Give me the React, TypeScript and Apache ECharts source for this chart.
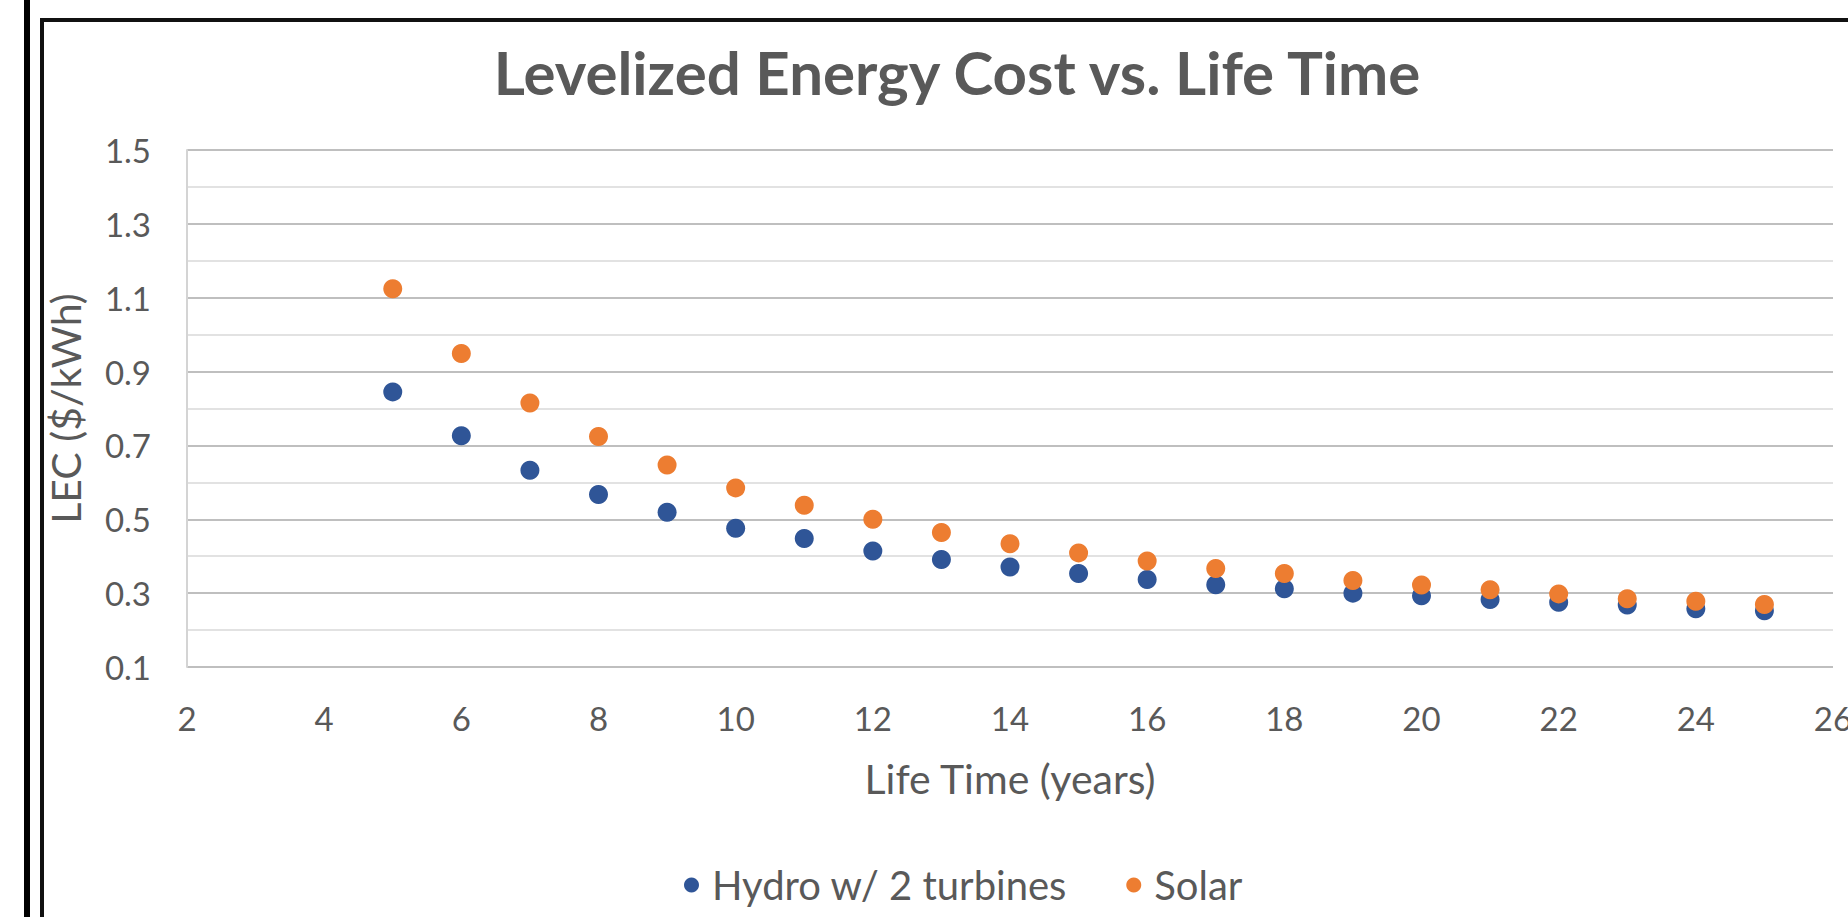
import React, { useEffect, useRef } from "react";
import * as echarts from "echarts";

const lifeTimeYears = [5, 6, 7, 8, 9, 10, 11, 12, 13, 14, 15, 16, 17, 18, 19, 20, 21, 22, 23, 24, 25];
const hydroLEC = [0.845, 0.726, 0.633, 0.567, 0.519, 0.476, 0.448, 0.414, 0.391, 0.371, 0.353, 0.337, 0.323, 0.312, 0.300, 0.293, 0.283, 0.275, 0.268, 0.258, 0.252];
const solarLEC = [1.124, 0.949, 0.815, 0.724, 0.647, 0.585, 0.538, 0.500, 0.464, 0.434, 0.409, 0.387, 0.367, 0.353, 0.334, 0.322, 0.309, 0.298, 0.285, 0.278, 0.269];
const yTickLabels = ["0.1", "0.3", "0.5", "0.7", "0.9", "1.1", "1.3", "1.5"];
const seriesNames = ["Hydro w/ 2 turbines", "Solar"];
const titleText = "Levelized Energy Cost vs. Life Time";
const xAxisTitle = "Life Time (years)";
const yAxisTitle = "LEC ($/kWh)";

const FONT = "Lato";
const TEXT_COLOR = "#595959";

export default function App() {
  const ref = useRef<HTMLDivElement>(null);
  useEffect(() => {
    if (!ref.current) return;
    const chart = echarts.init(ref.current, null, { renderer: "svg" });
    const pairs = (ys: number[]) => lifeTimeYears.map((x, i) => [x, ys[i]]);
    chart.setOption({
      animation: false,
      backgroundColor: "#ffffff",
      textStyle: { fontFamily: FONT },
      title: {
        text: titleText,
        left: 952,
        textAlign: "center",
        top: 37,
        textStyle: { fontFamily: FONT, fontSize: 60, fontWeight: "bold", color: TEXT_COLOR },
      },
      legend: {
        data: seriesNames,
        left: 679,
        top: 860,
        icon: "circle",
        itemWidth: 15,
        itemHeight: 15,
        itemGap: 59,
        textStyle: { fontFamily: FONT, fontSize: 40, color: TEXT_COLOR, padding: [0, 0, 0, 8] },
      },
      grid: { left: 187, right: 15, top: 150, bottom: 250, outerBoundsMode: "none" },
      xAxis: {
        type: "value",
        min: 2,
        max: 26,
        interval: 2,
        axisLine: { show: false },
        axisTick: { show: false },
        splitLine: { show: false },
        axisLabel: { fontFamily: FONT, fontSize: 33, color: TEXT_COLOR, margin: 34 },
        name: xAxisTitle,
        nameLocation: "middle",
        nameGap: 91,
        nameTextStyle: { fontFamily: FONT, fontSize: 41, color: TEXT_COLOR },
      },
      yAxis: {
        type: "value",
        min: 0.1,
        max: 1.5,
        interval: 0.1,
        axisLine: { show: true, lineStyle: { color: "#d4d4d4", width: 2 } },
        axisTick: { show: false },
        splitLine: { show: true, lineStyle: { color: ["#bfbfbf", "#e2e2e2"], width: 2 } },
        axisLabel: {
          fontFamily: FONT,
          fontSize: 33,
          color: TEXT_COLOR,
          margin: 36,
          formatter: (v: number) => {
            const s = v.toFixed(1);
            return yTickLabels.includes(s) ? s : "";
          },
        },
        name: yAxisTitle,
        nameLocation: "middle",
        nameGap: 101,
        nameTextStyle: { fontFamily: FONT, fontSize: 41, color: TEXT_COLOR },
      },
      series: [
        {
          name: seriesNames[0],
          type: "scatter",
          data: pairs(hydroLEC),
          symbol: "circle",
          symbolSize: 19,
          itemStyle: { color: "#2f5597", opacity: 1 },
        },
        {
          name: seriesNames[1],
          type: "scatter",
          data: pairs(solarLEC),
          symbol: "circle",
          symbolSize: 19,
          itemStyle: { color: "#ed7d31", opacity: 1 },
        },
      ],
      graphic: [
        { type: "rect", shape: { x: 24, y: 0, width: 6, height: 917 }, style: { fill: "#000" }, silent: true },
        { type: "rect", shape: { x: 40, y: 18, width: 4, height: 899 }, style: { fill: "#111" }, silent: true },
        { type: "rect", shape: { x: 40, y: 18, width: 1808, height: 4 }, style: { fill: "#111" }, silent: true },
      ],
    });
    return () => chart.dispose();
  }, []);
  return (
    <div
      ref={ref}
      style={{ position: "fixed", left: 0, top: 0, width: 1848, height: 917, background: "#fff" }}
    />
  );
}
